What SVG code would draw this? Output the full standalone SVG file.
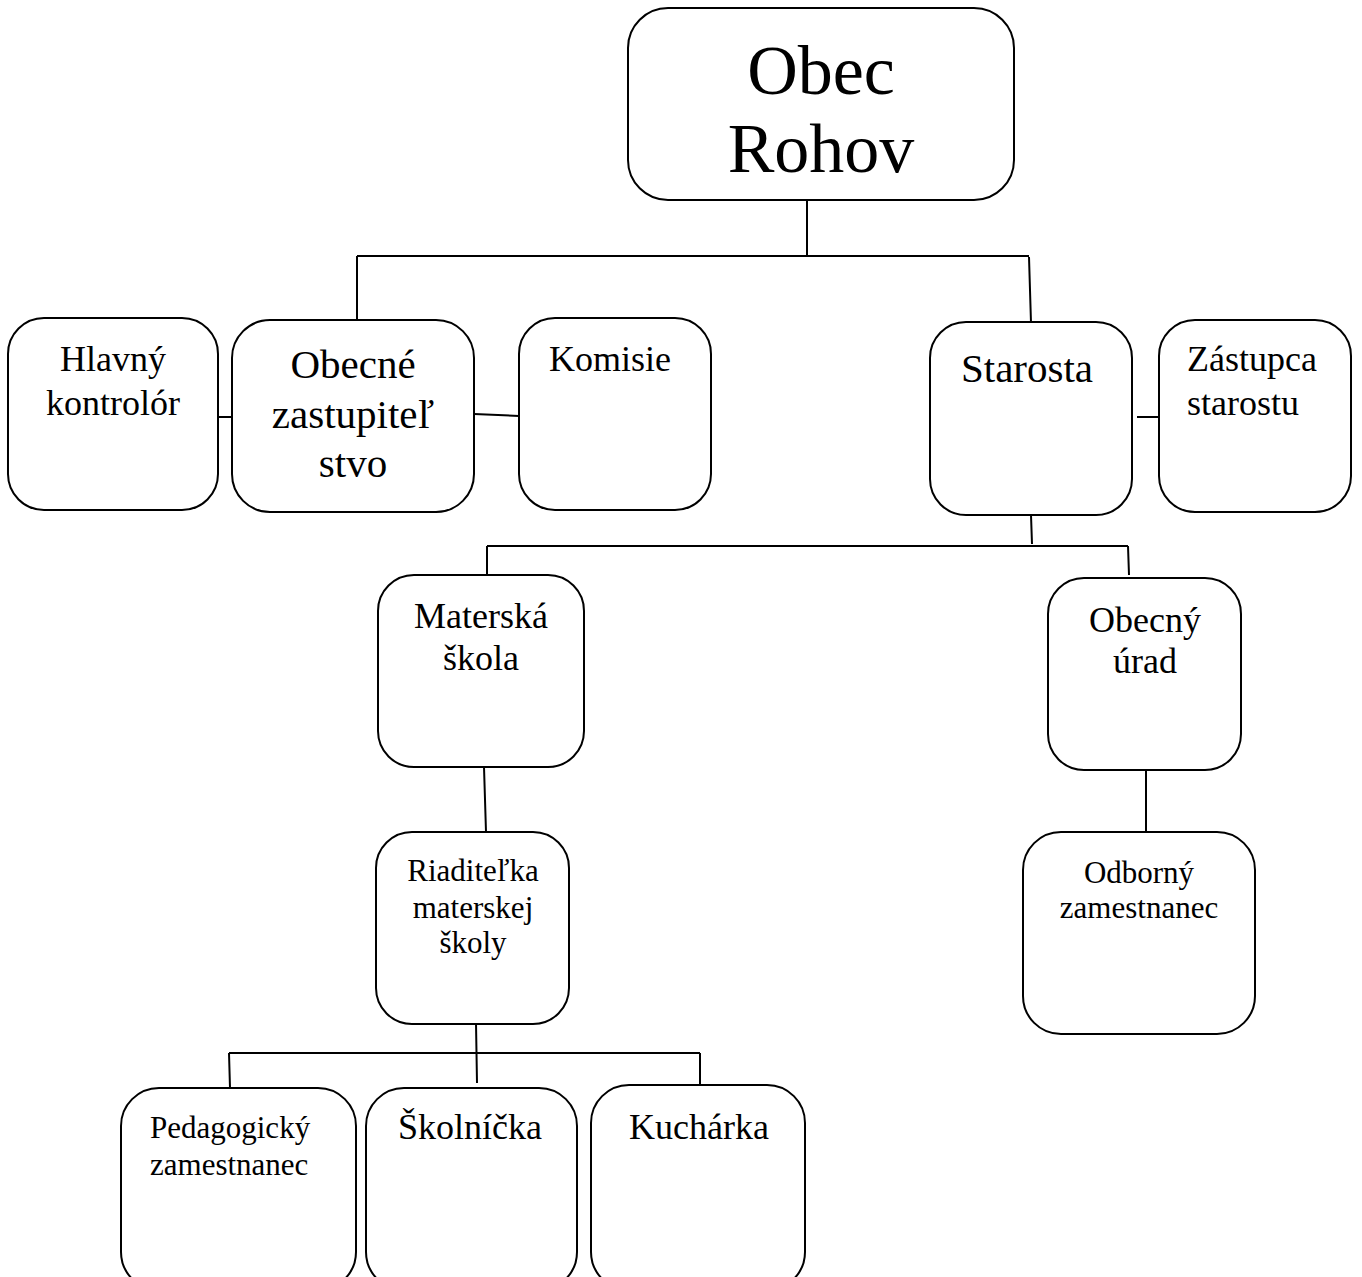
<svg xmlns="http://www.w3.org/2000/svg" width="1362" height="1277" viewBox="0 0 1362 1277">
<style>
.box{fill:#fff;stroke:#000;stroke-width:2}
.ln{stroke:#000;stroke-width:2;fill:none}
text{font-family:"Liberation Serif","Times New Roman",serif;fill:#000}
.c{text-anchor:middle}
</style>
<rect width="1362" height="1277" fill="#fff"/>
<g id="connectors">
<path class="ln" d="M807,200 V257 M357,256 H1029 M357,256 V320 M1029,257 L1031,323"/>
<path class="ln" d="M219,417 H238 M474,414 L519,416 M1137,417 H1162"/>
<path class="ln" d="M1031,515 L1032,544 M487,546 H1128 M487,546 V575 M1128,546 L1129,575"/>
<path class="ln" d="M484,767 L486,832 M1146,770 V832"/>
<path class="ln" d="M476,1023 L477,1083 M229,1053 H700 M229,1053 L230,1088 M700,1053 V1084"/>
</g>
<g id="obec-rohov"><rect class="box" x="628" y="8" width="386" height="192" rx="40"/><text class="c" x="821" y="94" font-size="70">Obec</text><text class="c" x="821" y="172" font-size="70">Rohov</text></g>
<g id="hlavny-kontrolor"><rect class="box" x="8" y="318" width="210" height="192" rx="36"/><text class="c" x="113" y="371" font-size="36">Hlavný</text><text class="c" x="113" y="415" font-size="36">kontrolór</text></g>
<g id="obecne-zastupitelstvo"><rect class="box" x="232" y="320" width="242" height="192" rx="38"/><text class="c" x="353" y="378" font-size="41">Obecné</text><text class="c" x="353" y="428" font-size="41">zastupiteľ</text><text class="c" x="353" y="477" font-size="41">stvo</text></g>
<g id="komisie"><rect class="box" x="519" y="318" width="192" height="192" rx="36"/><text class="c" x="610" y="371" font-size="36">Komisie</text></g>
<g id="starosta"><rect class="box" x="930" y="322" width="202" height="193" rx="36"/><text class="c" x="1027" y="382" font-size="41">Starosta</text></g>
<g id="zastupca-starostu"><rect class="box" x="1159" y="320" width="192" height="192" rx="36"/><text x="1187" y="371" font-size="36">Zástupca</text><text x="1187" y="415" font-size="36">starostu</text></g>
<g id="materska-skola"><rect class="box" x="378" y="575" width="206" height="192" rx="36"/><text class="c" x="481" y="628" font-size="36">Materská</text><text class="c" x="481" y="670" font-size="36">škola</text></g>
<g id="obecny-urad"><rect class="box" x="1048" y="578" width="193" height="192" rx="36"/><text class="c" x="1145" y="632" font-size="36">Obecný</text><text class="c" x="1145" y="673" font-size="36">úrad</text></g>
<g id="riaditelka"><rect class="box" x="376" y="832" width="193" height="192" rx="36"/><text class="c" x="473" y="881" font-size="31">Riaditeľka</text><text class="c" x="473" y="918" font-size="31">materskej</text><text class="c" x="473" y="953" font-size="31">školy</text></g>
<g id="odborny-zamestnanec"><rect class="box" x="1023" y="832" width="232" height="202" rx="38"/><text class="c" x="1139" y="883" font-size="31">Odborný</text><text class="c" x="1139" y="918" font-size="31">zamestnanec</text></g>
<g id="pedagogicky-zamestnanec"><rect class="box" x="121" y="1088" width="235" height="202" rx="38"/><text x="150" y="1138" font-size="31">Pedagogický</text><text x="150" y="1175" font-size="31">zamestnanec</text></g>
<g id="skolnicka"><rect class="box" x="366" y="1088" width="211" height="202" rx="38"/><text class="c" x="470" y="1139" font-size="36">Školníčka</text></g>
<g id="kucharka"><rect class="box" x="591" y="1085" width="214" height="205" rx="38"/><text class="c" x="699" y="1139" font-size="36">Kuchárka</text></g>
</svg>
